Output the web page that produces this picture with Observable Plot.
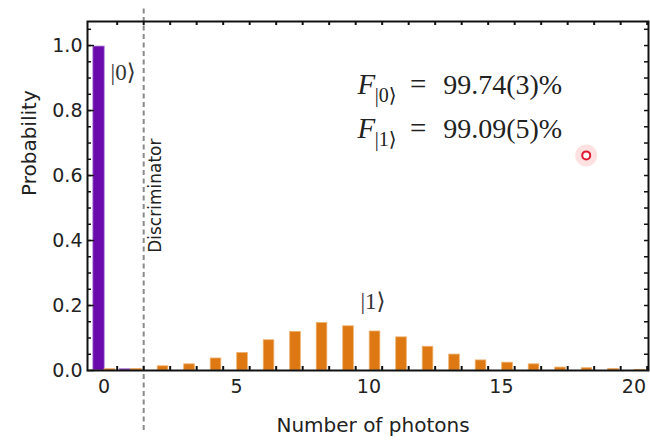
<!DOCTYPE html>
<html>
<head>
<meta charset="utf-8">
<script src="https://cdn.jsdelivr.net/npm/d3@7"></script>
<script src="https://cdn.jsdelivr.net/npm/@observablehq/plot@0.6"></script>
<style>
  html, body { margin: 0; padding: 0; background: #fff; }
  #chart svg { display: block; }
</style>
</head>
<body>
<div id="chart"></div>
<script>
// ---- data ----
const photons   = [0, 1, 2, 3, 4, 5, 6, 7, 8, 9, 10, 11, 12, 13, 14, 15, 16, 17, 18, 19, 20];
const probDark  = [0.997, 0.004, 0, 0, 0, 0, 0, 0, 0, 0, 0, 0, 0, 0, 0, 0, 0, 0, 0, 0, 0];
const probBright = [0.004, 0.005, 0.013, 0.019, 0.037, 0.054, 0.093, 0.119, 0.146, 0.136, 0.120,
                    0.102, 0.073, 0.049, 0.031, 0.024, 0.019, 0.009, 0.007, 0.005, 0.002];
const xTickValues = [0, 5, 10, 15, 20];
const yTickValues = [0, 0.2, 0.4, 0.6, 0.8, 1.0];
const xLabel = "Number of photons";
const yLabel = "Probability";
const discriminatorAt = 1.5;
const stateLabels = [
  {text: "|0⟩", x: 0.25, y: 0.895},
  {text: "|1⟩", x: 9.68, y: 0.19}
];
const fidelityRows = [
  {sub: "|0⟩", value: "99.74(3)%", y: 0.852},
  {sub: "|1⟩", value: "99.09(5)%", y: 0.716}
];
const pointer = [{x: 18.2, y: 0.662}];

// ---- derived table ----
const bars = photons.flatMap((n, i) => [
  {n, state: "dark", p: probDark[i]},
  {n, state: "bright", p: probBright[i]}
]);

const xDomain = [-0.62, 20.55];
const yDomain = [0, 1.074];
const pxX = 561 / (xDomain[1] - xDomain[0]);
const pxY = 349 / (yDomain[1] - yDomain[0]);
const minorX = d3.range(0.5, 20.6, 1);
const minorY = d3.range(0.05, 1.06, 0.05);

const purple = "#6a0aac", purpleEdge = "#b38ad8";
const orange = "#dd7812", orangeEdge = "#efb06e";

const chart = Plot.plot({
  width: 650,
  height: 442,
  marginLeft: 87,
  marginRight: 2,
  marginTop: 21,
  marginBottom: 72,
  style: {fontFamily: "'DejaVu Sans', sans-serif", background: "#fff", color: "#222"},
  x: {domain: xDomain, axis: null},
  y: {domain: yDomain, axis: null},
  marks: [
    // bars
    Plot.rectY(bars.filter(d => d.p > 0), {
      x1: d => d.state === "dark" ? d.n - 0.40 : d.n + 0.03,
      x2: d => d.state === "dark" ? d.n + 0.03 : d.n + 0.43,
      y1: 0,
      y2: "p",
      fill: d => d.state === "dark" ? purple : orange,
      stroke: d => d.state === "dark" ? purpleEdge : orangeEdge,
      strokeWidth: 0.8
    }),
    // discriminator
    Plot.ruleX([discriminatorAt], {
      y1: -0.185, y2: 1.123, stroke: "#8a8a8a", strokeWidth: 2, strokeDasharray: "5,3.5"
    }),
    // minor/major ticks (inward) on frame
    Plot.ruleX(minorX, {x: d => d, y1: 0, y2: 4 / pxY, stroke: "#111", strokeWidth: 2}),
    Plot.ruleX(minorX, {x: d => d, y1: yDomain[1], y2: yDomain[1] - 4 / pxY, stroke: "#111", strokeWidth: 2}),
    Plot.ruleY(minorY, {y: d => d, x1: xDomain[0], x2: xDomain[0] + 4 / pxX, stroke: "#111", strokeWidth: 1.5}),
    Plot.ruleY(yTickValues, {y: d => d, x1: xDomain[0], x2: xDomain[0] + 7 / pxX, stroke: "#111", strokeWidth: 1.5}),
    Plot.ruleY(minorY, {y: d => d, x1: xDomain[1], x2: xDomain[1] - 4 / pxX, stroke: "#111", strokeWidth: 1.5}),
    Plot.frame({stroke: "#111", strokeWidth: 2}),
    // tick labels
    Plot.text(yTickValues, {
      x: xDomain[0], y: d => d, text: d => d.toFixed(1),
      textAnchor: "end", dx: -5, fontSize: 19, fill: "#222"
    }),
    Plot.text(xTickValues, {
      x: d => d, y: 0, text: d => String(d),
      lineAnchor: "top", dy: 9, fontSize: 19, fill: "#222"
    }),
    // axis labels
    Plot.text([xLabel], {
      frameAnchor: "bottom", dy: 61, dx: 5, lineAnchor: "bottom", fontSize: 20, fill: "#222"
    }),
    Plot.text([yLabel], {
      frameAnchor: "left", dx: -52, rotate: -90, lineAnchor: "bottom", fontSize: 20, fill: "#222"
    }),
    // discriminator label
    Plot.text(["Discriminator"], {
      x: 2.17, y: 0.538, rotate: -90, lineAnchor: "bottom", fontSize: 17, fill: "#222"
    }),
    // state labels
    Plot.text(stateLabels, {
      x: "x", y: "y", text: "text", textAnchor: "start", lineAnchor: "bottom",
      fontSize: 23, fill: "#333", fontFamily: "'Liberation Serif', 'DejaVu Serif', serif"
    }),
    // fidelity formula
    Plot.text(fidelityRows, {
      x: 9.57, y: "y", text: () => "F", textAnchor: "start", lineAnchor: "bottom",
      fontSize: 29, fontStyle: "italic", fill: "#222", fontFamily: "'Liberation Serif', serif"
    }),
    Plot.text(fidelityRows, {
      x: 10.22, y: "y", text: "sub", textAnchor: "start", lineAnchor: "bottom", dy: 8,
      fontSize: 20, fill: "#222", fontFamily: "'Liberation Serif', 'DejaVu Serif', serif"
    }),
    Plot.text(fidelityRows, {
      x: 11.55, y: "y", text: () => "=", textAnchor: "start", lineAnchor: "bottom",
      fontSize: 29, fill: "#222", fontFamily: "'Liberation Serif', serif"
    }),
    Plot.text(fidelityRows, {
      x: 12.8, y: "y", text: "value", textAnchor: "start", lineAnchor: "bottom",
      fontSize: 28, fill: "#222", fontFamily: "'Liberation Serif', serif"
    }),
    // laser pointer spot
    Plot.dot(pointer, {x: "x", y: "y", r: 11, fill: "#ff9a9a", fillOpacity: 0.3}),
    Plot.dot(pointer, {x: "x", y: "y", r: 4, fill: "#fff", stroke: "#e0182e", strokeWidth: 2})
  ]
});

document.getElementById("chart").appendChild(chart);
</script>
</body>
</html>
